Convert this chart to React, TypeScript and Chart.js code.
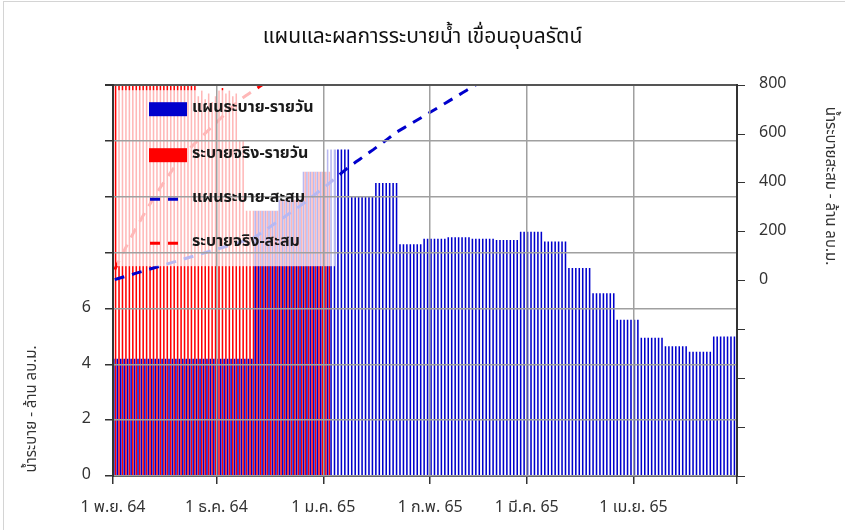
import React, { useEffect, useRef } from 'react';
import { Chart, registerables } from 'chart.js';

Chart.register(...registerables);

const FONT = "'Noto Sans Thai', Tahoma, 'Noto Sans', 'DejaVu Sans', sans-serif";

const chartTitle = 'แผนและผลการระบายน้ำ เขื่อนอุบลรัตน์';
const leftAxisTitle = 'น้ำระบาย - ล้าน ลบ.ม.';
const rightAxisTitle = 'น้ำระบายสะสม - ล้าน ลบ.ม.';

// day index 0 = 1 Nov 2021 (1 พ.ย. 64)
const monthTickDays = [0, 30, 61, 92, 120, 151, 181];
const monthTickLabels = ['1 พ.ย. 64', '1 ธ.ค. 64', '1 ม.ค. 65', '1 ก.พ. 65', '1 มี.ค. 65', '1 เม.ย. 65', ''];

const planLabel = 'แผนระบาย-รายวัน';
const actualLabel = 'ระบายจริง-รายวัน';
const planCumLabel = 'แผนระบาย-สะสม';
const actualCumLabel = 'ระบายจริง-สะสม';

// planned daily release (million m3), 1 Nov 2021 .. 30 Apr 2022
const planDaily = [
  4.2, 4.2, 4.2, 4.2, 4.2, 4.2, 4.2,
  4.2, 4.2, 4.2, 4.2, 4.2, 4.2, 4.2,
  4.2, 4.2, 4.2, 4.2, 4.2, 4.2, 4.2,
  4.2, 4.2, 4.2, 4.2, 4.2, 4.2, 4.2,
  4.2, 4.2, 4.2, 4.2, 4.2, 4.2, 4.2,
  4.2, 4.2, 4.2, 4.2, 4.2, 4.2,
  9.5, 9.5, 9.5, 9.5, 9.5, 9.5, 9.5,
  9.9, 9.9, 9.9, 9.9, 9.9, 9.9, 9.9,
  10.9, 10.9, 10.9, 10.9, 10.9, 10.9, 10.9,
  11.7, 11.7, 11.7, 11.7, 11.7, 11.7, 11.7,
  10.0, 10.0, 10.0, 10.0, 10.0, 10.0, 10.0,
  10.5, 10.5, 10.5, 10.5, 10.5, 10.5, 10.5,
  8.3, 8.3, 8.3, 8.3, 8.3, 8.3, 8.3,
  8.5, 8.5, 8.5, 8.5, 8.5, 8.5, 8.5,
  8.55, 8.55, 8.55, 8.55, 8.55, 8.55, 8.55,
  8.5, 8.5, 8.5, 8.5, 8.5, 8.5, 8.5,
  8.45, 8.45, 8.45, 8.45, 8.45, 8.45, 8.45,
  8.75, 8.75, 8.75, 8.75, 8.75, 8.75, 8.75,
  8.4, 8.4, 8.4, 8.4, 8.4, 8.4, 8.4,
  7.45, 7.45, 7.45, 7.45, 7.45, 7.45, 7.45,
  6.55, 6.55, 6.55, 6.55, 6.55, 6.55, 6.55,
  5.6, 5.6, 5.6, 5.6, 5.6, 5.6, 5.6,
  4.95, 4.95, 4.95, 4.95, 4.95, 4.95, 4.95,
  4.65, 4.65, 4.65, 4.65, 4.65, 4.65, 4.65,
  4.45, 4.45, 4.45, 4.45, 4.45, 4.45, 4.45,
  5.0, 5.0, 5.0, 5.0, 5.0, 5.0, 5.0,
];

// actual daily release (million m3), 1 Nov 2021 .. 2 Jan 2022
const actualDaily = [
  45, 29, 28, 28, 27, 27, 26,
  25, 25, 24, 24, 23, 23,
  22, 21, 21, 20, 20, 19,
  18, 17, 16, 16, 15,
  13.6, 13.8, 13.5, 13.7, 13.4, 13.6, 13.8, 13.9, 13.7, 13.8, 13.6, 13.7,
  12.0, 12.0,
  9.5, 9.5, 9.5,
  9.5, 9.5, 9.5, 9.5, 9.5, 9.5, 9.5,
  9.9, 9.9, 9.9, 9.9, 9.9, 9.9, 9.9,
  10.9, 10.9, 10.9, 10.9, 10.9, 10.9, 10.9,
  10.9,
];

const planColor = '#0000CC';
const actualColor = '#FF0000';

function running(values: number[]) {
  let s = 0;
  return values.map((v) => (s += v));
}

function toPoints(values: number[]) {
  return values.map((v, i) => ({ x: i + 0.5, y: v }));
}

const overlayPlugin = {
  id: 'overlay',
  afterDatasetsDraw(chart: any) {
    const { ctx, chartArea: ca } = chart;
    ctx.save();
    ctx.fillStyle = 'rgba(255,255,255,0.72)';
    ctx.fillRect(ca.left + 4, ca.top + 5, 218, 176);
    ctx.restore();
  },
  afterDraw(chart: any) {
    const { ctx, chartArea: ca } = chart;
    const ds = chart.data.datasets;
    const order = [2, 3, 0, 1];
    const rows = [24, 70, 114, 158];
    ctx.save();
    order.forEach((di: number, r: number) => {
      const d = ds[di];
      const cy = ca.top + rows[r];
      const sx = ca.left + 36;
      if (d.type === 'bar') {
        ctx.fillStyle = d.backgroundColor;
        ctx.fillRect(sx, cy - 7, 38, 14);
      } else {
        ctx.strokeStyle = d.borderColor;
        ctx.lineWidth = 3;
        ctx.setLineDash([10, 8]);
        ctx.beginPath();
        ctx.moveTo(sx + 1, cy);
        ctx.lineTo(sx + 29, cy);
        ctx.stroke();
        ctx.setLineDash([]);
      }
      ctx.fillStyle = '#1a1a1a';
      ctx.font = `bold 16px ${FONT}`;
      ctx.textAlign = 'left';
      ctx.textBaseline = 'middle';
      ctx.fillText(d.label, ca.left + 79, cy);
    });

    // axis titles
    ctx.font = `15px ${FONT}`;
    ctx.fillStyle = '#333';
    ctx.textAlign = 'center';
    ctx.textBaseline = 'middle';
    ctx.save();
    ctx.translate(33, 409);
    ctx.rotate(-Math.PI / 2);
    ctx.fillText(leftAxisTitle, 0, 0);
    ctx.restore();
    ctx.save();
    ctx.translate(829, 186);
    ctx.rotate(Math.PI / 2);
    ctx.fillText(rightAxisTitle, 0, 0);
    ctx.restore();
    ctx.restore();
  },
};

export default function App() {
  const canvasRef = useRef<HTMLCanvasElement | null>(null);

  useEffect(() => {
    if (!canvasRef.current) return;
    Chart.defaults.font.family = FONT;
    const tickFont = { family: FONT, size: 16 };
    const chart = new Chart(canvasRef.current, {
      type: 'bar',
      data: {
        datasets: [
          {
            type: 'line',
            label: planCumLabel,
            data: toPoints(running(planDaily)),
            yAxisID: 'y2',
            borderColor: planColor,
            backgroundColor: planColor,
            borderWidth: 3,
            borderDash: [10, 8],
            pointRadius: 0,
            fill: false,
            order: 0,
          },
          {
            type: 'line',
            label: actualCumLabel,
            data: toPoints(running(actualDaily)),
            yAxisID: 'y2',
            borderColor: actualColor,
            backgroundColor: actualColor,
            borderWidth: 3,
            borderDash: [10, 8],
            pointRadius: 0,
            fill: false,
            order: 0,
          },
          {
            type: 'bar',
            label: planLabel,
            data: toPoints(planDaily),
            yAxisID: 'y',
            backgroundColor: planColor,
            borderWidth: 0,
            categoryPercentage: 1,
            barPercentage: 0.9,
            order: 1,
          },
          {
            type: 'bar',
            label: actualLabel,
            data: toPoints(actualDaily),
            yAxisID: 'y',
            backgroundColor: actualColor,
            borderWidth: 0,
            categoryPercentage: 1,
            barPercentage: 0.9,
            order: 1,
          },
        ] as any,
      },
      options: {
        animation: false,
        responsive: true,
        maintainAspectRatio: false,
        layout: { padding: 0 },
        plugins: {
          legend: { display: false },
          tooltip: { enabled: false },
          title: {
            display: true,
            text: chartTitle,
            color: '#111',
            font: { family: FONT, size: 21, weight: 'normal' },
            padding: { top: 26, bottom: 34 },
          },
        },
        scales: {
          x: {
            type: 'linear',
            min: 0,
            max: 181,
            offset: false,
            afterBuildTicks: (s: any) => {
              s.ticks = monthTickDays.map((v) => ({ value: v }));
            },
            afterFit: (s: any) => {
              s.height = 54;
            },
            ticks: {
              autoSkip: false,
              maxRotation: 0,
              padding: 15,
              color: '#333',
              font: tickFont,
              callback: (v: any) => {
                const i = monthTickDays.indexOf(Number(v));
                return i >= 0 ? monthTickLabels[i] : '';
              },
            },
            grid: {
              offset: false,
              color: '#a0a0a0',
              lineWidth: 1.5,
              tickLength: 8,
              tickColor: '#333',
              z: 1,
            },
            border: { color: '#333', width: 2, z: 1 },
          },
          y: {
            type: 'linear',
            position: 'left',
            min: 0,
            max: 14,
            afterFit: (s: any) => {
              s.width = 113;
            },
            ticks: {
              stepSize: 2,
              padding: 14,
              color: '#333',
              font: tickFont,
              callback: (v: any) => (Number(v) <= 6 ? String(v) : ''),
            },
            grid: {
              color: (c: any) => (c.tick && c.tick.value === 14 ? '#555' : '#a0a0a0'),
              lineWidth: (c: any) => (c.tick && c.tick.value === 14 ? 2 : 1.5),
              tickLength: 8,
              tickColor: '#333',
              z: 1,
            },
            border: { color: '#333', width: 2, z: 1 },
          },
          y2: {
            type: 'linear',
            position: 'right',
            min: -800,
            max: 800,
            afterFit: (s: any) => {
              s.width = 108;
            },
            ticks: {
              stepSize: 200,
              padding: 14,
              color: '#333',
              font: tickFont,
              callback: (v: any) => (Number(v) >= 0 ? String(v) : ''),
            },
            grid: {
              drawOnChartArea: false,
              tickLength: 8,
              tickColor: '#333',
              z: 1,
            },
            border: { color: '#333', width: 2, z: 1 },
          },
        },
      } as any,
      plugins: [overlayPlugin],
    });
    return () => chart.destroy();
  }, []);

  return (
    <div style={{ position: 'fixed', left: 0, top: 0, width: 845, height: 530, background: '#fff' }}>
      <div
        style={{
          position: 'absolute',
          left: 3,
          top: 1,
          width: 900,
          height: 600,
          borderLeft: '1px solid #d4d4d4',
          borderTop: '1px solid #d4d4d4',
          pointerEvents: 'none',
        }}
      />
      <canvas ref={canvasRef} style={{ position: 'absolute', left: 0, top: 0, width: 845, height: 530 }} />
    </div>
  );
}
